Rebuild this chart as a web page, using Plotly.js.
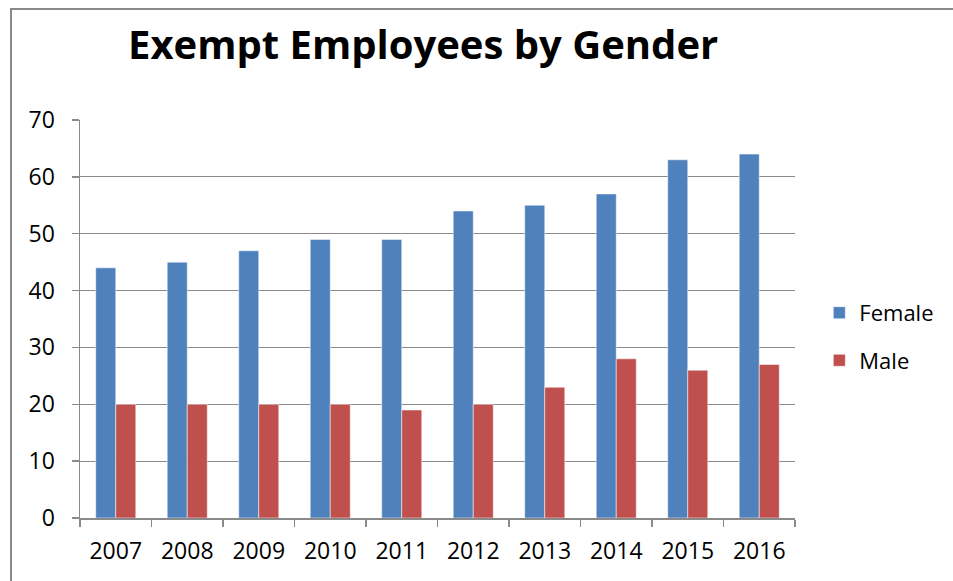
<!DOCTYPE html>
<html>
<head>
<meta charset="utf-8">
<script src="https://cdn.plot.ly/plotly-3.0.1.min.js"></script>
<style>
  html, body { margin: 0; padding: 0; background: #fff; }
  #wrap { position: relative; width: 953px; height: 581px; overflow: hidden; }
  #chart { width: 953px; height: 581px; }
  #frame { position: absolute; left: 10px; top: 8px; width: 960px; height: 600px;
           border-left: 2px solid #8a8a8a; border-top: 2px solid #8a8a8a; pointer-events: none; }
</style>
</head>
<body>
<div id="wrap">
  <div id="chart"></div>
  <div id="frame"></div>
</div>
<script>
const years = ["2007","2008","2009","2010","2011","2012","2013","2014","2015","2016"];
const female = [44,45,47,49,49,54,55,57,63,64];
const male = [20,20,20,20,19,20,23,28,26,27];
const seriesNames = ["Female","Male"];
const titleText = "Exempt Employees by Gender";

const FONT = "'Open Sans', sans-serif";

const traces = [
  { type: "bar", x: years, y: female, name: seriesNames[0], legendgroup: "f",
    marker: { color: "#4F81BD", line: { color: "rgba(255,255,255,0.5)", width: 1 } } },
  { type: "bar", x: years, y: male, name: seriesNames[1], legendgroup: "m",
    marker: { color: "#C0504D", line: { color: "rgba(255,255,255,0.5)", width: 1 } } }
];

const layout = {
  width: 953, height: 581,
  margin: { l: 80, r: 158, t: 120, b: 63 },
  paper_bgcolor: "#fff", plot_bgcolor: "#fff",
  font: { family: FONT, color: "#000", size: 22 },
  title: { text: "<b>" + titleText + "</b>", font: { family: FONT, size: 40, color: "#000" },
           x: 0.444, xref: "container", xanchor: "center", y: 0.9225, yref: "container", yanchor: "middle" },
  barmode: "group", bargap: 0.44, bargroupgap: 0,
  showlegend: true,
  legend: { x: 1.034, xanchor: "left", y: 0.455, yanchor: "middle", tracegroupgap: 16,
            font: { family: FONT, size: 22, color: "#000" }, bgcolor: "rgba(0,0,0,0)" },
  xaxis: { type: "category", showline: true, linecolor: "#8a8a8a", linewidth: 1.5,
           ticks: "outside", tickson: "boundaries", ticklen: 7, tickcolor: "#8a8a8a", tickwidth: 1.5,
           ticklabelstandoff: 12,
           showgrid: false, tickfont: { family: FONT, size: 23 }, zeroline: false },
  yaxis: { range: [0, 70], dtick: 10, showline: true, linecolor: "#8a8a8a", linewidth: 1.5,
           ticks: "outside", ticklen: 7, tickcolor: "#8a8a8a", tickwidth: 1.5,
           ticklabelstandoff: 12,
           showgrid: true, gridcolor: "#8a8a8a", gridwidth: 1.2, zeroline: false,
           tickfont: { family: FONT, size: 23 } }
};

Plotly.newPlot("chart", traces, layout, { displayModeBar: false, staticPlot: true });
</script>
</body>
</html>
